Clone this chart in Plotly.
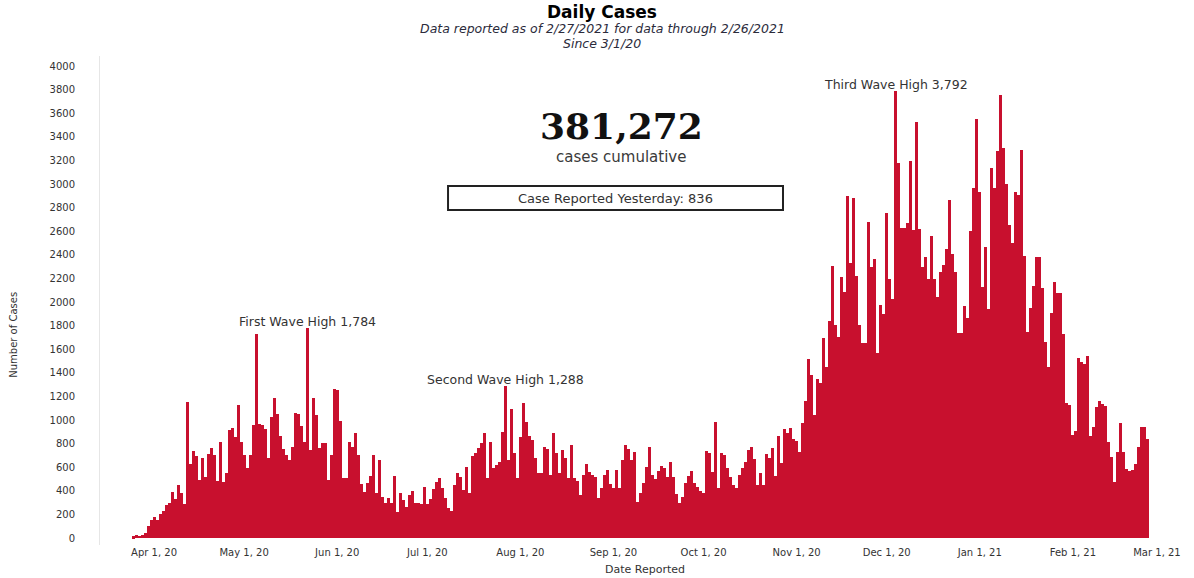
import pandas as pd
import plotly.graph_objects as go

# Daily new cases, one value per reporting day
first_day = "2020-03-25"
daily_cases = [
    15, 25, 20, 30, 45, 100, 150, 175, 150, 200, 230, 280, 300, 390, 330,
    450, 380, 290, 1150, 630, 740, 695, 490, 675, 520, 712, 760, 700, 480, 816,
    472, 548, 915,
    929, 859, 1127, 810, 703, 590, 703, 957, 1730, 966, 957, 921, 675, 1023, 1183,
    1050, 864, 751, 700, 660, 774, 1057, 1051, 949, 816, 1784, 746, 1183, 1042, 760,
    802, 802, 491, 703,
    1260, 1254, 994, 505, 505, 816, 774, 887, 700, 457, 393, 463, 525, 703, 378,
    661, 350, 300, 336, 294, 525, 218, 378, 322, 260, 364, 398, 300, 300, 290,
    435, 290, 328, 412, 477, 505,
    421, 336, 251, 232, 449, 548, 520, 407, 605, 384, 695, 723, 760, 802, 887,
    506, 816, 590, 619, 647, 901, 1288, 661, 1093, 723, 506, 859, 1141, 986, 864,
    831, 675, 548, 548, 768,
    751, 534, 893, 718, 548, 746, 675, 506, 785, 506, 480, 364, 534, 627, 560,
    534, 520, 336, 421, 534, 575, 458, 421, 576, 421, 661, 788, 751, 661, 732,
    305, 379, 469, 605, 768,
    534, 497, 571, 610, 590, 514, 647, 514, 373, 300, 350, 469, 525, 571, 463,
    435, 400, 379, 740, 718, 562, 980, 421, 723, 703, 590, 520, 450, 421, 534,
    590, 647, 746, 768, 667,
    449, 554, 449, 709, 675, 760, 525, 864, 638, 921, 887, 929, 836, 822, 732,
    972, 1164, 1514, 1381, 1042, 1345, 1316, 1692, 1452, 1842, 2305, 1805, 1706, 2209, 2088,
    2898, 2328, 2878, 2220, 1805,
    1650, 1650, 2681, 2299, 2362, 1565, 1975, 1898, 2757, 2198, 2023, 3792, 3181, 2624, 2624,
    2672, 3198, 2610, 3528, 2616, 2299, 2384, 2198, 2559, 2198, 2045, 2254, 2314, 2446, 2864,
    2407, 2254, 1735, 1735, 1966,
    1862, 2605, 2963, 3548, 2935, 2130, 2463, 1938, 3133, 2969, 3280, 3754, 3308, 2997, 2650,
    2503, 2935, 2907, 3288, 2390, 1749, 1946, 2136, 2379, 2379, 2122, 1664, 1452, 1910, 2170,
    2073, 2073, 1729, 1141, 1127,
    873, 910, 1523, 1494, 1475, 1542, 864, 944, 1113, 1164, 1136, 1119, 816, 689, 477,
    732, 977, 732, 582, 571, 576, 627, 774, 944, 944, 836,
]

cumulative_total = "381,272"
reported_yesterday = 836
wave_labels = ["First Wave High", "Second Wave High", "Third Wave High"]
wave_peaks = [1784, 1288, 3792]

y_ticks = list(range(0, 4001, 200))
x_ticks = pd.date_range("2020-04-01", "2021-03-01", freq="MS")

dates = pd.date_range(first_day, periods=len(daily_cases), freq="D")

BAR_RED = "#C8102E"
FONT = "DejaVu Sans"
DAY_MS = 86400000

fig = go.Figure(
    go.Bar(
        x=dates,
        y=daily_cases,
        width=DAY_MS,
        marker=dict(color=BAR_RED, line=dict(width=0)),
        hovertemplate="%{x|%b %-d, %Y}<br>%{y:,} cases<extra></extra>",
    )
)

fig.update_layout(
    width=1194,
    height=578,
    margin=dict(l=100, r=4, t=56, b=33),
    paper_bgcolor="white",
    plot_bgcolor="white",
    bargap=0,
    showlegend=False,
    font=dict(family=FONT, size=10, color="#333333"),
)

fig.update_xaxes(
    type="date",
    range=["2020-03-14", "2021-03-12"],
    tickvals=x_ticks,
    tickformat="%b %-d, %y",
    tickfont=dict(size=10, color="#333333"),
    showgrid=False,
    zeroline=False,
    showline=False,
    ticks="",
    title=dict(text="Date Reported", font=dict(size=11, color="#333333"), standoff=8),
)

fig.update_yaxes(
    range=[-59, 4085],
    tickvals=y_ticks,
    tickfont=dict(size=10, color="#333333"),
    ticklabelstandoff=22,
    showgrid=False,
    zeroline=False,
    showline=True,
    linecolor="#e6e6e6",
    linewidth=1,
    ticks="",
)

# Header lines are placed in pixels above the top of the plot area (y=56)
annotations = [
    dict(text="<b>Daily Cases</b>", xref="paper", yref="paper", x=0.461, y=1,
         yshift=44, xanchor="center", yanchor="middle", showarrow=False,
         font=dict(size=17, color="black")),
    dict(text="<i>Data reported as of 2/27/2021 for data through 2/26/2021</i>",
         xref="paper", yref="paper", x=0.461, y=1, yshift=28, xanchor="center",
         yanchor="middle", showarrow=False, font=dict(size=12.5, color="#2b2b3b")),
    dict(text="<i>Since 3/1/20</i>", xref="paper", yref="paper", x=0.461, y=1,
         yshift=13, xanchor="center", yanchor="middle", showarrow=False,
         font=dict(size=12.5, color="#2b2b3b")),
    dict(text="<b>" + cumulative_total + "</b>", xref="paper", yref="paper",
         x=0.478, y=0.8569, xanchor="center", yanchor="middle", showarrow=False,
         font=dict(family="DejaVu Serif", size=36, color="#111111")),
    dict(text="cases cumulative", xref="paper", yref="paper", x=0.478, y=0.7935,
         xanchor="center", yanchor="middle", showarrow=False,
         font=dict(size=15, color="#3a3a3a")),
    dict(text="Case Reported Yesterday: " + str(reported_yesterday), xref="paper",
         yref="paper", x=0.473, y=0.7096, xanchor="center", yanchor="middle",
         showarrow=False, font=dict(size=13, color="#333333")),
    dict(text="Number of Cases", xref="paper", yref="paper", x=0, xshift=-86,
         y=0.43, xanchor="center", yanchor="middle", textangle=-90,
         showarrow=False, font=dict(size=10, color="#333333")),
]

for label, peak in zip(wave_labels, wave_peaks):
    i = daily_cases.index(peak)
    annotations.append(
        dict(text=f"{label} {peak:,}", x=dates[i], y=peak, xanchor="center",
             yanchor="bottom", yshift=-3, showarrow=False,
             font=dict(size=12.5, color="#333333"))
    )

fig.update_layout(annotations=annotations)

# Outline around the "reported yesterday" figure
fig.add_shape(type="rect", xref="paper", yref="paper",
              x0=0.3193, x1=0.6266, y0=0.6851, y1=0.7342,
              line=dict(color="#222222", width=2), fillcolor="rgba(0,0,0,0)")

fig.write_html("out.html")
